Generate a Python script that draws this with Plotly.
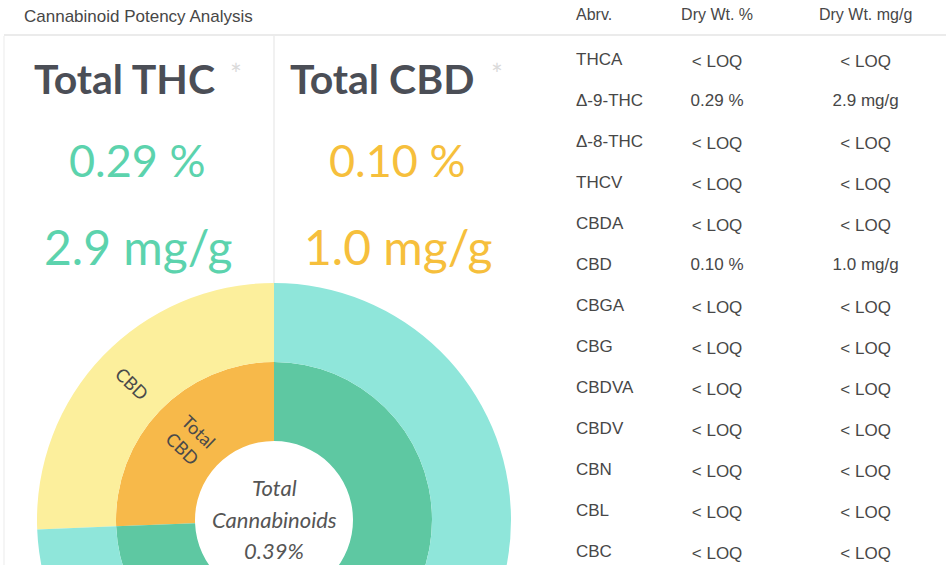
import plotly.graph_objects as go

# ---------------- data ----------------
title_text = "Cannabinoid Potency Analysis"

total_names = ["Total THC", "Total CBD"]
total_pct = ["0.29 %", "0.10 %"]
total_mg = ["2.9 mg/g", "1.0 mg/g"]

# sunburst hierarchy
sb_ids = ["Total Cannabinoids", "Total CBD", "Total THC", "CBD", "Δ-9-THC"]
sb_parents = ["", "Total Cannabinoids", "Total Cannabinoids", "Total CBD", "Total THC"]
sb_values = [0.39, 0.10, 0.29, 0.10, 0.29]
sb_text = ["", "Total<br>CBD", "", "CBD", ""]
center_lines = ["Total", "Cannabinoids", "0.39%"]

# table
tbl_header = ["Abrv.", "Dry Wt. %", "Dry Wt. mg/g"]
tbl_abrv = ["THCA", "Δ-9-THC", "Δ-8-THC", "THCV", "CBDA", "CBD", "CBGA",
            "CBG", "CBDVA", "CBDV", "CBN", "CBL", "CBC"]
tbl_pct = ["< LOQ", "0.29 %", "< LOQ", "< LOQ", "< LOQ", "0.10 %", "< LOQ",
           "< LOQ", "< LOQ", "< LOQ", "< LOQ", "< LOQ", "< LOQ"]
tbl_mg = ["< LOQ", "2.9 mg/g", "< LOQ", "< LOQ", "< LOQ", "1.0 mg/g", "< LOQ",
          "< LOQ", "< LOQ", "< LOQ", "< LOQ", "< LOQ", "< LOQ"]

# ---------------- styles ----------------
W, H = 946, 800
TEAL_TXT = "#5cd3ad"
ORANGE_TXT = "#f6bf3c"
DARK = "#4b4e56"
GREY = "#474747"
sb_colors = ["#ffffff", "#f7b94a", "#5ec8a2", "#fcef9c", "#8fe6da"]


def px(x):
    return x / W


def py(y):
    return 1 - y / H


fig = go.Figure()

fig.add_trace(go.Sunburst(
    ids=sb_ids, labels=sb_ids, parents=sb_parents, values=sb_values,
    branchvalues="total", sort=False, rotation=90,
    text=sb_text, texttemplate="%{text}",
    insidetextorientation="radial",
    textfont=dict(family="Lato", size=18, color="#4a4a4a"),
    marker=dict(colors=sb_colors, line=dict(width=0)),
    leaf=dict(opacity=1),
    hoverinfo="skip",
    domain=dict(x=[px(37), px(511)], y=[py(757), py(283)]),
))

fig.add_trace(go.Table(
    domain=dict(x=[px(568), 1], y=[py(565), 1]),
    columnwidth=[80, 135, 159],
    header=dict(values=tbl_header, align=["left", "center", "center"],
                fill_color="white", line_color="white", height=44,
                font=dict(family="Liberation Sans", size=16, color=GREY)),
    cells=dict(values=[tbl_abrv, tbl_pct, tbl_mg],
               align=["left", "center", "center"],
               fill_color="white", line_color="white", height=41,
               font=dict(family="Liberation Sans", size=17, color=GREY)),
))

ann = []
ann.append(dict(text=title_text, x=px(22), y=py(16), xanchor="left", yanchor="middle",
                showarrow=False, font=dict(family="Liberation Sans", size=17, color=GREY)))

name_x = [32, 288]
star_x = [236, 497]
val_cx = [137, 397]
val_colors = [TEAL_TXT, ORANGE_TXT]
for i in range(2):
    ann.append(dict(text="<b>%s</b>" % total_names[i], x=px(name_x[i]), y=py(78),
                    xanchor="left", yanchor="middle", showarrow=False,
                    font=dict(family="Lato", size=41, color=DARK)))
    ann.append(dict(text="*", x=px(star_x[i]), y=py(74), xanchor="center", yanchor="middle",
                    showarrow=False, font=dict(family="Lato", size=28, color="#dadada")))
    ann.append(dict(text=total_pct[i], x=px(val_cx[i]), y=py(160), xanchor="center",
                    yanchor="middle", showarrow=False,
                    font=dict(family="Lato", size=45, color=val_colors[i])))
    ann.append(dict(text=total_mg[i], x=px(val_cx[i] + 1), y=py(246), xanchor="center",
                    yanchor="middle", showarrow=False,
                    font=dict(family="Lato", size=48, color=val_colors[i])))

center_y = [487, 519, 550]
for t, yy in zip(center_lines, center_y):
    ann.append(dict(text="<i>%s</i>" % t, x=px(274), y=py(yy), xanchor="center",
                    yanchor="middle", showarrow=False,
                    font=dict(family="Lato", size=22, color="#555555")))

shapes = [
    dict(type="line", xref="paper", yref="paper", x0=px(4), x1=1, y0=py(35), y1=py(35),
         line=dict(color="#ebebeb", width=2)),
    dict(type="line", xref="paper", yref="paper", x0=px(274), x1=px(274), y0=py(36), y1=py(283),
         line=dict(color="#ececec", width=1.5)),
    dict(type="line", xref="paper", yref="paper", x0=px(4), x1=px(4), y0=py(36), y1=py(565),
         line=dict(color="#f2f2f2", width=1.5)),
]

fig.update_layout(
    width=W, height=H,
    margin=dict(l=0, r=0, t=0, b=0),
    paper_bgcolor="white", plot_bgcolor="white",
    annotations=ann, shapes=shapes,
    showlegend=False,
)

fig.write_html(
    "out.html",
    config={"displayModeBar": False},
    post_script="document.documentElement.style.overflow='hidden';"
                "document.body.style.overflow='hidden';document.body.style.margin='0';",
)
